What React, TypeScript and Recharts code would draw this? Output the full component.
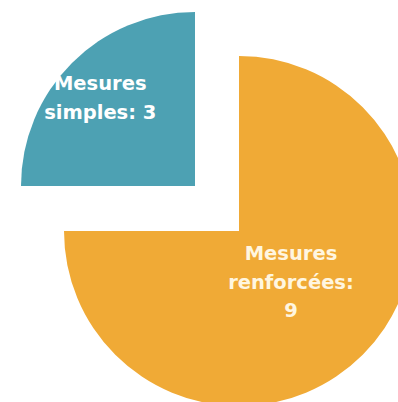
import React from 'react';
import { PieChart, Pie, Cell } from 'recharts';

const categories = ['Mesures simples', 'Mesures renforcées'];
const values = [3, 9];
const labelLines = [['Mesures', 'simples: 3'], ['Mesures', 'renforcées:', '9']];
const colors = ['#4DA1B3', '#F0AA36'];

const data = categories.map((name, i) => ({ name, value: values[i] }));

const RAD = Math.PI / 180;

function makeLabel(index: number, ratio: number, color: string, dy: number) {
  return (props: any) => {
    if (props.index !== index) return null;
    const { cx, cy, midAngle, outerRadius } = props;
    const r = outerRadius * ratio;
    const x = cx + r * Math.cos(-midAngle * RAD);
    const y = cy + r * Math.sin(-midAngle * RAD) + dy;
    const lines = labelLines[index];
    const lh = 28.5;
    const y0 = y - ((lines.length - 1) * lh) / 2;
    return (
      <text
        x={x}
        y={y0}
        textAnchor="middle"
        dominantBaseline="central"
        fill={color}
        fontFamily="'DejaVu Sans', sans-serif"
        fontWeight={700}
        fontSize={19.5}
      >
        {lines.map((l, i) => (
          <tspan key={i} x={x} y={y0 + i * lh}>
            {l}
          </tspan>
        ))}
      </text>
    );
  };
}

export default function App() {
  return (
    <div style={{ position: 'absolute', left: 0, top: 0, background: '#fff' }}>
      <PieChart width={398} height={402} margin={{ top: 0, right: 0, bottom: 0, left: 0 }}>
        <Pie
          data={data}
          dataKey="value"
          cx={239}
          cy={231}
          outerRadius={175}
          startAngle={180}
          endAngle={-180}
          stroke="none"
          isAnimationActive={false}
          labelLine={false}
          label={makeLabel(1, 0.42, '#FFF6E0', -1)}
        >
          {data.map((d, i) => (
            <Cell key={d.name} fill={i === 1 ? colors[1] : 'transparent'} />
          ))}
        </Pie>
        <Pie
          data={data}
          dataKey="value"
          cx={195}
          cy={186}
          outerRadius={174}
          startAngle={180}
          endAngle={-180}
          stroke="none"
          isAnimationActive={false}
          labelLine={false}
          label={makeLabel(0, 0.77, '#FFFFFF', 6)}
        >
          {data.map((d, i) => (
            <Cell key={d.name} fill={i === 0 ? colors[0] : 'transparent'} />
          ))}
        </Pie>
      </PieChart>
    </div>
  );
}
